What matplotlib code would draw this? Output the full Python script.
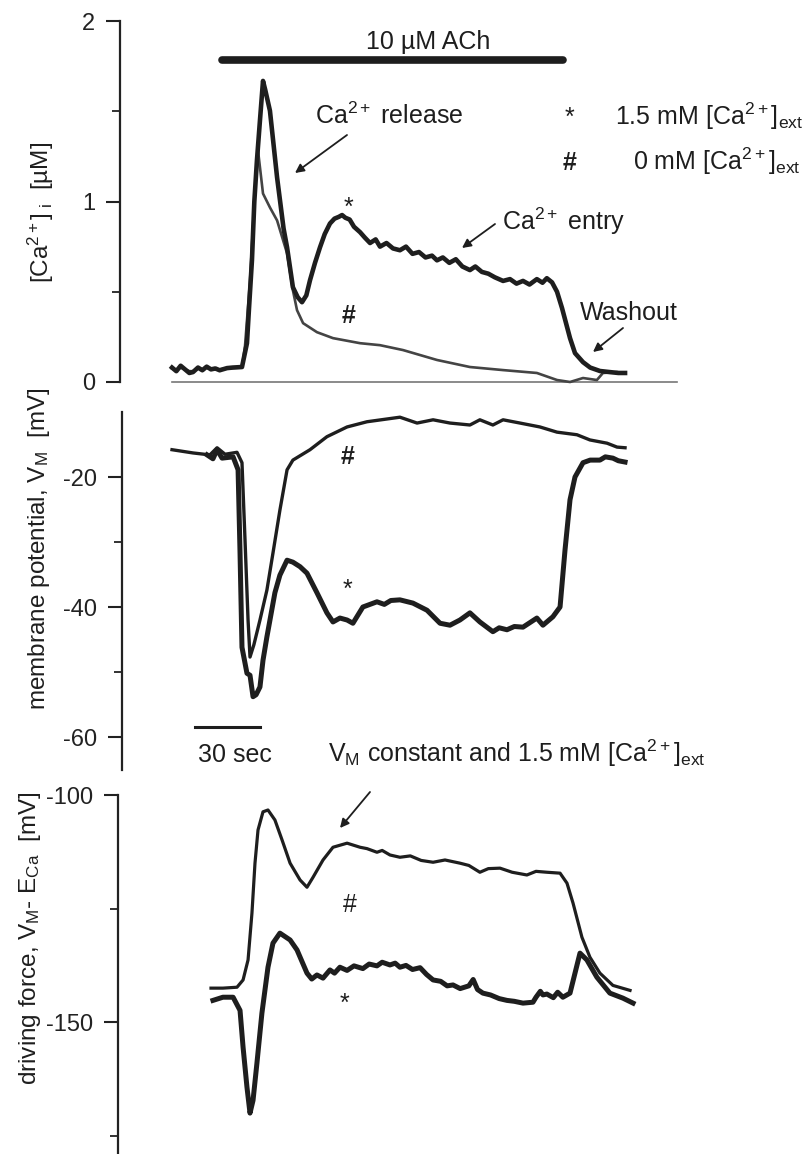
import matplotlib
matplotlib.use('Agg')
from matplotlib import pyplot as plt

plt.rcParams['font.family'] = ['Liberation Sans', 'DejaVu Sans']
plt.rcParams['mathtext.fontset'] = 'custom'
plt.rcParams['mathtext.rm'] = 'Liberation Sans'
plt.rcParams['mathtext.it'] = 'Liberation Sans:italic'
plt.rcParams['mathtext.bf'] = 'Liberation Sans:bold'
plt.rcParams['axes.unicode_minus'] = False

# ---- data (time in sec from start of recording) ----
# [Ca2+]i, 1.5 mM external Ca (*)
t_ca_high = [0, 2, 4, 6, 8, 9.7, 12, 14, 16, 18, 20, 22, 25.4, 28, 32.3, 34.6, 35.5, 36.9,
             38.0, 39.2, 40.6, 42.0, 43.0, 45.2, 48.5, 51.5, 53.1, 55.8, 58, 60.0, 62, 63.7,
             66, 68.3, 70.5, 72.9, 75, 77, 78.5, 80, 82, 84, 86.8, 89, 91.4, 94, 96, 99, 102,
             105.2, 108, 111, 114, 117, 120, 122.3, 125, 128, 131, 134, 137.5, 140, 143, 146,
             149, 152.8, 156, 159, 162, 165, 168.4, 171, 173, 175.4, 177.7, 180, 183.7, 186,
             189.7, 193, 197.5, 202, 206, 209.1]
ca_high = [0.08, 0.06, 0.09, 0.07, 0.05, 0.055, 0.08, 0.065, 0.085, 0.07, 0.075, 0.065, 0.077,
           0.08, 0.083, 0.215, 0.4, 0.674, 1.0, 1.227, 1.45, 1.668, 1.62, 1.503, 1.133, 0.85,
           0.746, 0.525, 0.47, 0.442, 0.48, 0.564, 0.66, 0.746, 0.82, 0.878, 0.905, 0.915, 0.925,
           0.91, 0.9, 0.86, 0.83, 0.8, 0.77, 0.79, 0.75, 0.77, 0.74, 0.73, 0.75, 0.71, 0.72,
           0.69, 0.7, 0.674, 0.69, 0.66, 0.68, 0.64, 0.62, 0.64, 0.61, 0.6, 0.58, 0.56, 0.57,
           0.545, 0.56, 0.54, 0.57, 0.55, 0.575, 0.552, 0.50, 0.41, 0.243, 0.16, 0.11, 0.08,
           0.061, 0.055, 0.05, 0.05]
# [Ca2+]i, 0 mM external Ca (#)
t_ca_zero = [0, 2, 4, 6, 8, 9.7, 12, 14, 16, 18, 20, 22, 25.4, 28, 32.3, 33.7, 36.0, 38.3, 39.7,
             42.0, 45.2, 48.5, 53.1, 55.8, 57.7, 60.5, 66.9, 74.3, 86.8, 96.0, 106.6, 122.3,
             137.5, 152.8, 168.4, 177.7, 183.7, 189.7, 196.1, 198.9, 205.4, 208.1]
ca_zero = [0.075, 0.065, 0.08, 0.07, 0.06, 0.06, 0.075, 0.07, 0.08, 0.07, 0.07, 0.07, 0.075,
           0.078, 0.08, 0.2, 0.56, 1.06, 1.282, 1.044, 0.967, 0.895, 0.713, 0.508, 0.398, 0.326,
           0.276, 0.243, 0.215, 0.204, 0.177, 0.122, 0.083, 0.066, 0.05, 0.011, 0.0, 0.022,
           0.011, 0.05, 0.055, 0.05]
zero_line = [0, 233]

# membrane potential, mV
t_vm_high = [16.2, 18.9, 20.8, 23.1, 28.2, 30.5, 31.4, 32.3, 34.6, 36.0, 37.4, 38.8, 40.6, 42.0,
             43.8, 47.5, 49.8, 53.1, 55.8, 59.1, 62.3, 66.9, 71.5, 74.3, 77.5, 80.8, 83.5, 88.1,
             94.6, 98, 101, 105.2, 111.2, 117.7, 123.7, 128.3, 132.9, 137.5, 142.1, 148.1, 151,
             154.6, 158, 162.0, 168.4, 171.2, 175.8, 179.1, 181.4, 183.7, 186.0, 189.7, 193,
             197.5, 200, 203.5, 206, 209.1]
vm_high = [-16.6, -17.2, -15.8, -17.1, -16.9, -18.9, -31.7, -46.2, -50.2, -50.5, -53.8, -53.5,
           -52.3, -48.2, -44.6, -37.8, -35.1, -32.8, -33.1, -33.8, -34.8, -37.8, -40.9, -42.3,
           -41.7, -42.0, -42.5, -40.0, -39.2, -39.6, -39.0, -38.9, -39.4, -40.5, -42.5, -42.8,
           -42.0, -40.9, -42.3, -43.8, -43.2, -43.5, -43.0, -43.1, -41.7, -42.8, -41.5, -40.0,
           -31.2, -23.5, -20.0, -17.8, -17.4, -17.4, -16.9, -17.1, -17.5, -17.7]
t_vm_zero = [0, 9.7, 17.5, 20.8, 24.5, 30.0, 32.3, 33.7, 35.1, 36.0, 37.8, 40.6, 43.8, 46.6,
             49.8, 53.1, 55.8, 63.7, 71.5, 80.8, 90.0, 105.2, 113.1, 120.5, 128.3, 137.5, 142.1,
             148.1, 152.8, 160.6, 169.8, 177.7, 186.9, 192.9, 200.8, 205.4, 209.1]
vm_zero = [-15.8, -16.3, -16.6, -15.5, -16.5, -16.2, -17.8, -29.7, -42.0, -47.7, -45.8, -42.0,
           -37.4, -31.7, -25.1, -18.9, -17.4, -15.8, -13.8, -12.3, -11.5, -10.8, -11.7, -11.2,
           -11.7, -12.0, -11.2, -12.0, -11.2, -11.7, -12.3, -13.1, -13.5, -14.3, -14.8, -15.4,
           -15.5]

# driving force V_M - E_Ca, mV
t_df_zero = [18.0, 23.5, 30.0, 32.8, 35.1, 36.9, 38.3, 39.7, 42.0, 44.3, 47.5, 50.8, 54.5, 59.1,
             62.3, 65.1, 69.7, 74.3, 80.8, 86.8, 90, 94.6, 97, 100.6, 105.2, 110, 115, 120.5,
             126, 132.9, 137, 142.1, 146, 151.4, 157, 163.8, 168, 173.1, 179.1, 182.3, 185.1,
             189.2, 192.9, 197.5, 203.5, 211.4]
df_zero = [-142.5, -142.5, -142.3, -140.7, -136.3, -126.0, -115.0, -107.7, -103.7, -103.3,
           -105.5, -109.9, -115.0, -118.7, -120.3, -118.1, -114.3, -111.5, -110.6, -111.5,
           -111.8, -112.6, -112.2, -113.2, -113.7, -113.4, -114.4, -114.8, -114.3, -115.0,
           -115.5, -117.0, -116.2, -116.1, -117.0, -117.6, -116.8, -117.0, -117.2, -119.4,
           -123.8, -131.3, -135.7, -139.2, -141.9, -143.0]
t_df_high = [18.9, 23.5, 28.2, 31.4, 32.8, 34.6, 36.0, 37.4, 39.2, 41.5, 44.3, 46.6, 49.8, 54.5,
             57.7, 62.3, 64.5, 66.9, 69.7, 72.9, 75, 77.5, 80.8, 84, 88.1, 91, 94.6, 97, 100.6,
             103, 105.2, 108, 111, 114.5, 117.5, 120.5, 124, 127, 129.7, 133, 137, 139, 141,
             143.5, 147, 151, 154.6, 158, 162, 166.6, 168, 170, 171.2, 173, 176, 178, 180.4,
             183.7, 188.3, 191.5, 196.1, 202.1, 208.1, 212.8]
df_high = [-145.2, -144.5, -144.5, -147.4, -155.5, -164.3, -170.0, -167.2, -159.0, -148.0,
           -137.9, -132.6, -130.4, -131.9, -134.1, -139.2, -140.5, -139.6, -140.3, -138.5,
           -139.2, -137.9, -138.6, -137.6, -138.2, -137.2, -137.6, -136.8, -137.4, -137.0,
           -137.9, -137.5, -138.4, -138.0, -139.5, -140.7, -141.0, -142.0, -141.8, -142.6,
           -142.0, -140.6, -142.8, -143.6, -144.0, -144.8, -145.2, -145.4, -145.8, -145.6,
           -144.5, -143.2, -144.0, -143.8, -144.6, -143.4, -144.5, -143.6, -134.8, -136.3,
           -140.1, -143.6, -144.7, -145.8]

ach_on = [23.1, 180.4]
scale_bar = [10.6, 40.6]

W, H = 807, 1154
SEC_PER_PX = 30 / 65.0
X0 = 172  # pixel of t = 0


def px(x, y):
    return (x / W, 1 - y / H)


def make_ax(left_px, top_px, bot_px):
    right_px = 700
    ax = fig.add_axes([left_px / W, 1 - bot_px / H, (right_px - left_px) / W,
                       (bot_px - top_px) / H])
    ax.set_xlim((left_px - X0) * SEC_PER_PX, (right_px - X0) * SEC_PER_PX)
    for s in ['top', 'right', 'bottom']:
        ax.spines[s].set_visible(False)
    ax.spines['left'].set_linewidth(1.6)
    ax.spines['left'].set_color('#222222')
    ax.set_xticks([])
    ax.tick_params(axis='y', which='major', length=10, width=1.5, labelsize=17, pad=8,
                   colors='#222222')
    ax.tick_params(axis='y', which='minor', length=6, width=1.3, colors='#222222')
    ax.patch.set_alpha(0)
    return ax


fig = plt.figure(figsize=(W / 100, H / 100), dpi=100)
dark = '#1e1e1e'

# ---- top: [Ca2+]i ----
ax1 = make_ax(120, 21, 382)
ax1.set_ylim(0, 2)
ax1.set_yticks([0, 1, 2])
ax1.set_yticks([0.5, 1.5], minor=True)
ax1.plot(zero_line, [0, 0], color='#777777', lw=1.2, clip_on=False)
ax1.plot(t_ca_zero, ca_zero, color='#444444', lw=1.9, clip_on=False)
ax1.plot(t_ca_high, ca_high, color=dark, lw=3.3, clip_on=False, solid_joinstyle='round')
ax1.plot(ach_on, [1.784, 1.784], color=dark, lw=5.5, solid_capstyle='round', clip_on=False)

# ---- middle: membrane potential ----
ax2 = make_ax(122, 412, 769.5)
ax2.set_ylim(-65, -10)
ax2.set_yticks([-60, -40, -20])
ax2.set_yticks([-50, -30], minor=True)
ax2.plot(t_vm_zero, vm_zero, color=dark, lw=2.4, clip_on=False)
ax2.plot(t_vm_high, vm_high, color=dark, lw=3.6, clip_on=False, solid_joinstyle='round')
ax2.plot(scale_bar, [-58.5, -58.5], color=dark, lw=2.2, clip_on=False)

# ---- bottom: driving force ----
ax3 = make_ax(118, 795, 1154)
ax3.set_ylim(-179, -100)
ax3.set_yticks([-150, -100])
ax3.set_yticks([-175, -125], minor=True)
ax3.plot(t_df_zero, df_zero, color=dark, lw=2.3, clip_on=False)
ax3.plot(t_df_high, df_high, color=dark, lw=3.6, clip_on=False, solid_joinstyle='round')

# ---- axis labels ----
fig.text(*px(41, 212), '[Ca$^{2+}$]$_{\\rm\\ i}$  [µM]', rotation=90, ha='center',
         va='center', fontsize=17.5, color=dark)
fig.text(*px(39, 549), 'membrane potential, V$_{\\rm M}$  [mV]', rotation=90, ha='center',
         va='center', fontsize=17.5, color=dark)
fig.text(*px(30, 938), 'driving force, V$_{\\rm M}$- E$_{\\rm Ca}$  [mV]', rotation=90,
         ha='center', va='center', fontsize=17.5, color=dark)

# ---- annotations ----
fs = 18
arrow = dict(arrowstyle='-|>', lw=1.3, color=dark, mutation_scale=13, shrinkA=0, shrinkB=0)


def label(x, y, s, **kw):
    kw.setdefault('fontsize', fs)
    kw.setdefault('ha', 'left')
    kw.setdefault('va', 'baseline')
    fig.text(*px(x, y), s, color=dark, **kw)


def arr(x0, y0, x1, y1):
    fig.add_artist(matplotlib.patches.FancyArrowPatch(px(x0, y0), px(x1, y1),
                                                      transform=fig.transFigure, **arrow))


label(428, 49, '10 µM ACh', ha='center')
label(315, 124, 'Ca$^{2+}$ release')
arr(347, 135, 295, 173)
label(569, 125, '*', ha='center')
label(615, 125, '1.5 mM [Ca$^{2+}$]$_{\\rm ext}$')
label(570, 170, '#', ha='center', fontweight='bold')
label(633, 170, '0 mM [Ca$^{2+}$]$_{\\rm ext}$')
label(502, 230, 'Ca$^{2+}$ entry')
arr(495, 224, 462, 248)
label(580, 320, 'Washout')
arr(623, 328, 593, 352)
label(348, 215, '*', ha='center')
label(349, 323, '#', ha='center', fontweight='bold')

label(348, 464, '#', ha='center', fontweight='bold')
label(347, 597, '*', ha='center')
label(198, 762, '30 sec')
label(328, 762, 'V$_{\\rm M}$ constant and 1.5 mM [Ca$^{2+}$]$_{\\rm ext}$')
arr(370, 792, 340, 828)

label(350, 912, '#', ha='center')
label(344, 1011, '*', ha='center')

fig.savefig('out.png', dpi=100)
